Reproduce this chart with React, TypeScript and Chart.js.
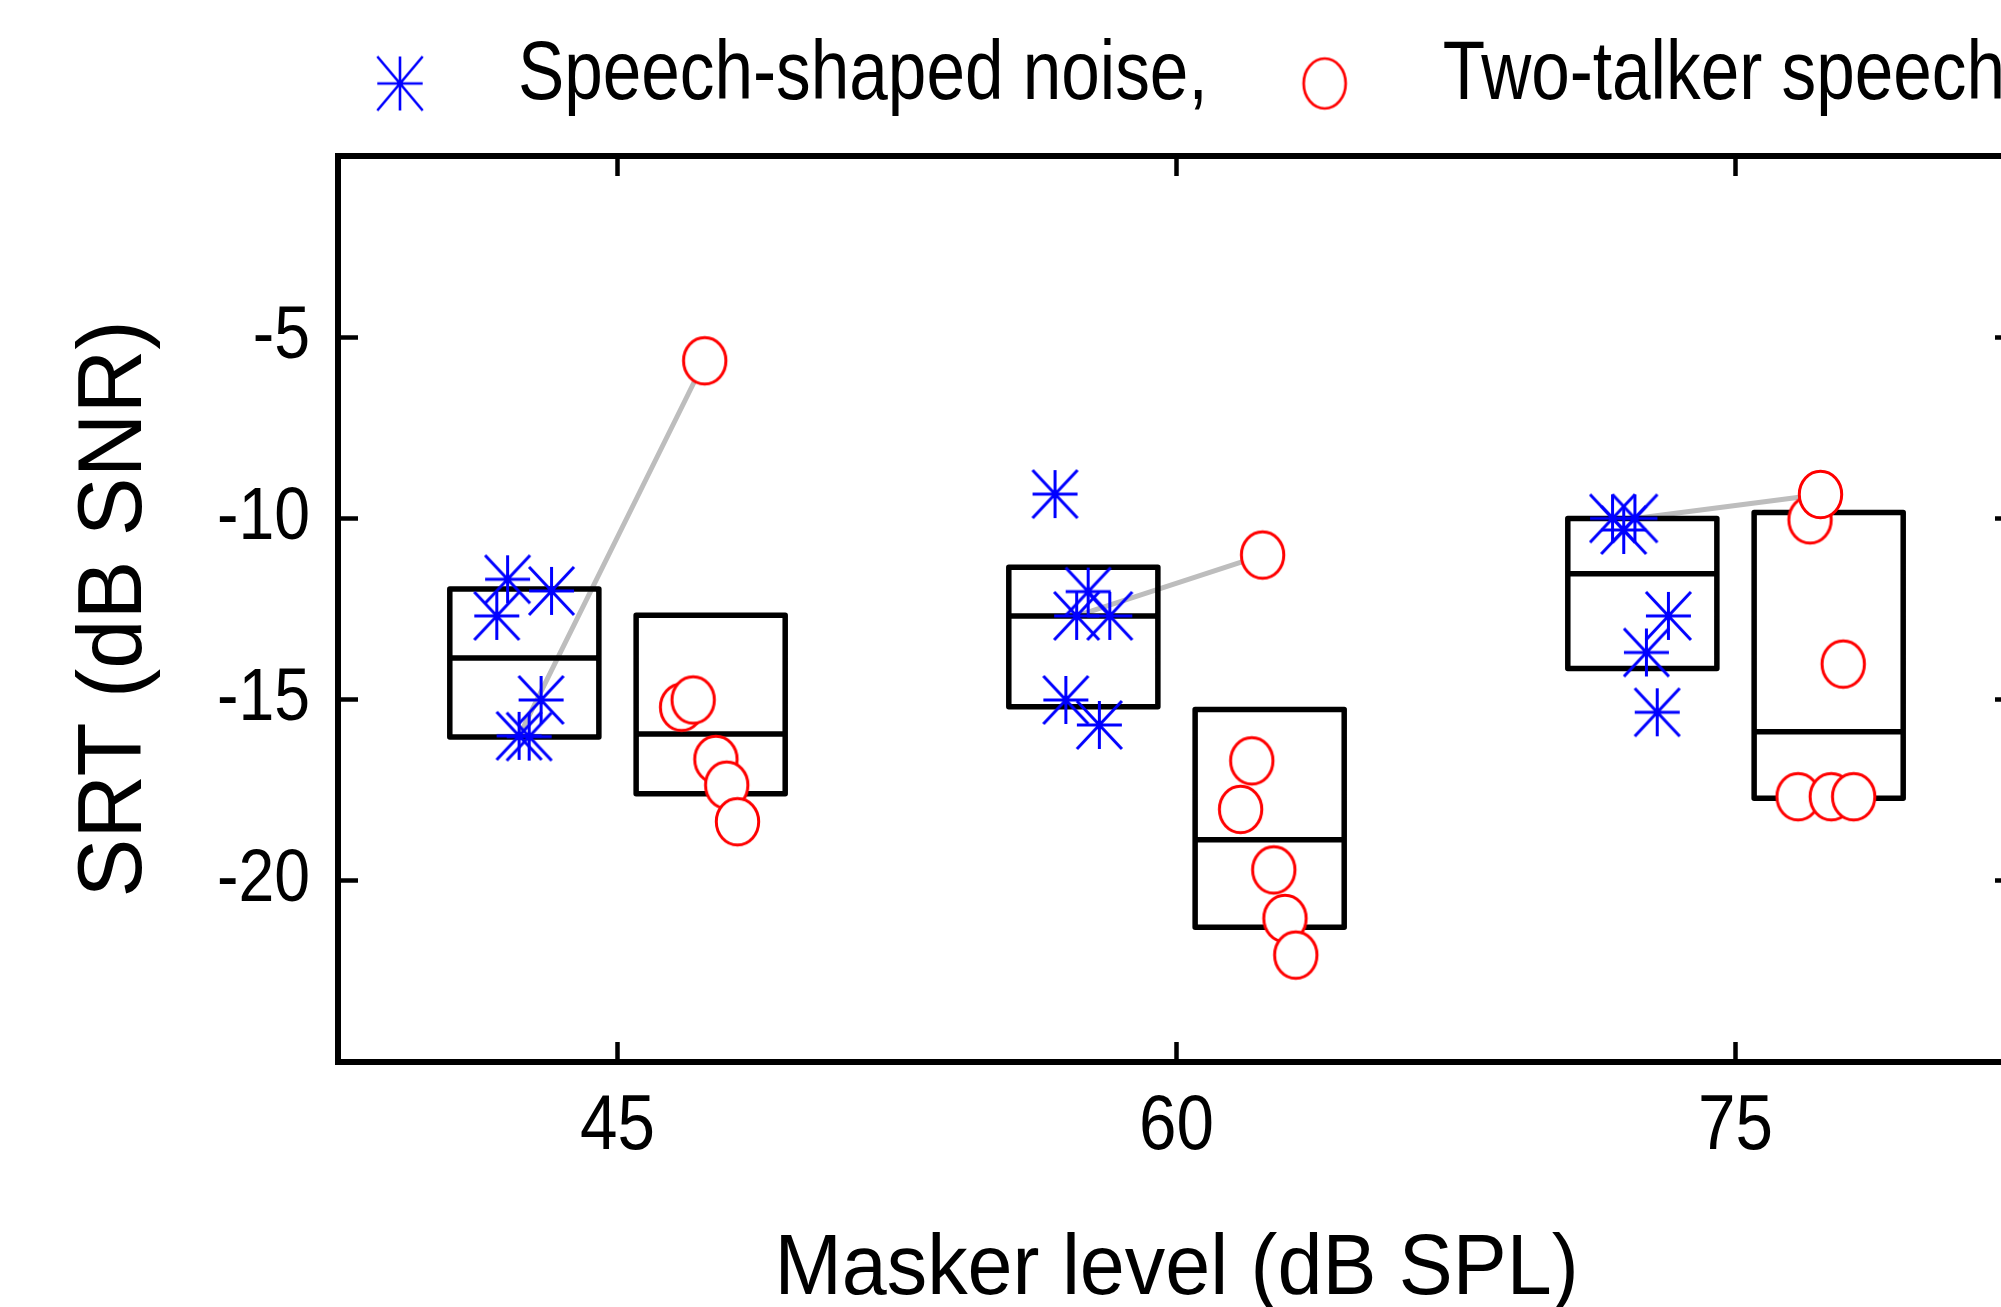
import React, { useEffect, useRef } from 'react';
import { Chart, registerables } from 'chart.js';

Chart.register(...registerables);

// ---------- data ----------
const levels = [45, 60, 75]; // masker level tick positions (dB SPL)
const xMin = 37.5;
const xMax = 82.5;
const yMin = -25;
const yMax = 0;
const yTickLabels = [-20, -15, -10, -5];

const ssnLabel = 'Speech-shaped noise,';
const ttLabel = 'Two-talker speech';

// Speech-shaped noise: individual SRTs (x = plotted, jittered position)
const ssnX = [42.05, 43.23, 41.76, 42.95, 42.36, 42.63, 56.74, 57.63, 57.32, 58.21, 57.03, 57.93, 71.7, 72.3, 72.0, 73.2, 72.61, 72.9];
const ssnY = [-11.68, -12.0, -12.69, -15.01, -16.0, -16.02, -9.33, -12.02, -12.69, -12.69, -15.01, -15.7, -10.0, -10.0, -10.32, -12.69, -13.7, -15.35];

// Two-talker speech: individual SRTs
const ttX = [46.72, 47.03, 47.64, 47.93, 48.22, 47.34, 62.31, 62.02, 61.72, 62.61, 62.91, 63.2, 77.0, 77.28, 77.89, 76.68, 77.57, 78.17];
const ttY = [-15.21, -15.01, -16.65, -17.36, -18.37, -5.65, -11.01, -16.69, -18.03, -19.7, -21.04, -22.05, -10.04, -9.34, -14.02, -17.68, -17.68, -17.68];

// Box summaries per masker level (low edge, median, high edge)
const ssnLow = [-16.03, -15.2, -14.14];
const ssnMed = [-13.85, -12.69, -11.53];
const ssnHigh = [-11.95, -11.35, -10.0];
const ttLow = [-17.6, -21.28, -17.72];
const ttMed = [-15.95, -18.87, -15.89];
const ttHigh = [-12.67, -15.27, -9.84];

// Highlighted listener (grey connecting lines): indices into the point arrays
const pairSsn = [4, 8, 13];
const pairTt = [5, 6, 13];

// ---------- styling constants ----------
const BOX_OFFSET = 2.5; // box centre offset from the level (data units)
const BOX_HALF = 2; // half box width (data units)
const FONT = "'Liberation Sans', Arial, Helvetica, sans-serif";
const SIZE_LEGEND = 84;
const SIZE_YTICK = 74;
const SIZE_XTICK = 77;
const SIZE_XTITLE = 86;
const SIZE_YTITLE = 91;
// narrow-font emulation: horizontal squeeze of glyphs per font size
const SQUEEZE: Record<number, number> = {
  [SIZE_LEGEND]: 0.825,
  [SIZE_YTICK]: 0.87,
  [SIZE_XTICK]: 0.875,
  [SIZE_XTITLE]: 0.94,
  [SIZE_YTITLE]: 0.97,
};

function makeStar(hw: number, hh: number, lw: number, dy = 0) {
  const pad = 4;
  const c = document.createElement('canvas');
  c.width = Math.ceil(2 * hw + 2 * pad);
  c.height = Math.ceil(2 * (hh + Math.abs(dy)) + 2 * pad);
  const g = c.getContext('2d')!;
  const cx = c.width / 2;
  const cy = c.height / 2 + dy;
  g.strokeStyle = '#0000ff';
  g.lineWidth = lw;
  g.beginPath();
  g.moveTo(cx - hw, cy); g.lineTo(cx + hw, cy);
  g.moveTo(cx, cy - hh); g.lineTo(cx, cy + hh);
  g.moveTo(cx - hw, cy - hh); g.lineTo(cx + hw, cy + hh);
  g.moveTo(cx - hw, cy + hh); g.lineTo(cx + hw, cy - hh);
  g.stroke();
  return c;
}

function makeCircle(rx: number, ry: number, lw: number, dy = 0) {
  const pad = 4;
  const c = document.createElement('canvas');
  c.width = Math.ceil(2 * rx + 2 * pad);
  c.height = Math.ceil(2 * (ry + Math.abs(dy)) + 2 * pad);
  const g = c.getContext('2d')!;
  const cx = c.width / 2;
  const cy = c.height / 2 + dy;
  g.beginPath();
  g.ellipse(cx, cy, rx, ry, 0, 0, Math.PI * 2);
  g.fillStyle = '#ffffff';
  g.fill();
  g.strokeStyle = '#ff0000';
  g.lineWidth = lw;
  g.stroke();
  return c;
}

function squeezeText(ctx: CanvasRenderingContext2D) {
  const origFill = ctx.fillText.bind(ctx);
  const origMeasure = ctx.measureText.bind(ctx);
  const sxFor = () => {
    const m = /(\d+(?:\.\d+)?)px/.exec(ctx.font);
    return m ? SQUEEZE[Math.round(Number(m[1]))] ?? 1 : 1;
  };
  (ctx as any).fillText = (text: string, x: number, y: number, maxWidth?: number) => {
    const sx = sxFor();
    if (sx === 1) return maxWidth === undefined ? origFill(text, x, y) : origFill(text, x, y, maxWidth);
    ctx.save();
    ctx.translate(x, y);
    ctx.scale(sx, 1);
    origFill(text, 0, 0);
    ctx.restore();
  };
  (ctx as any).measureText = (text: string) => {
    const m = origMeasure(text);
    const sx = sxFor();
    if (sx === 1) return m;
    return {
      width: m.width * sx,
      actualBoundingBoxLeft: m.actualBoundingBoxLeft * sx,
      actualBoundingBoxRight: m.actualBoundingBoxRight * sx,
      actualBoundingBoxAscent: m.actualBoundingBoxAscent,
      actualBoundingBoxDescent: m.actualBoundingBoxDescent,
      fontBoundingBoxAscent: m.fontBoundingBoxAscent,
      fontBoundingBoxDescent: m.fontBoundingBoxDescent,
    };
  };
}

export default function App() {
  const ref = useRef<HTMLCanvasElement>(null);

  useEffect(() => {
    const canvas = ref.current;
    if (!canvas) return;

    const legendPad = 41;
    const legendBox = 152;
    const H = 1307;
    const areaLeft = 338;
    const areaRight = 2015;
    const areaBottom = 1062;

    const mctx = document.createElement('canvas').getContext('2d')!;
    mctx.font = `${SIZE_LEGEND}px ${FONT}`;
    const sq = SQUEEZE[SIZE_LEGEND];
    const tw1 = mctx.measureText(ssnLabel).width * sq;
    const tw2 = mctx.measureText(ttLabel).width * sq;
    const lineW = (legendBox + SIZE_LEGEND / 2 + tw1 + legendPad) + (legendBox + SIZE_LEGEND / 2 + tw2 + legendPad);
    const legendStart = 324;
    const W = Math.round(2 * legendStart - legendPad + lineW);
    canvas.width = W;
    canvas.height = H;
    canvas.style.width = W + 'px';
    canvas.style.height = H + 'px';
    squeezeText(canvas.getContext('2d')!);

    const star = makeStar(22.5, 24, 3);
    const circ = makeCircle(21.2, 23.2, 3);
    const legStar = makeStar(22.7, 27, 2.6, 7.5);
    const legCirc = makeCircle(21, 25, 2.7, 7.5);

    const ssnPts = ssnX.map((x, i) => ({ x, y: ssnY[i] }));
    const ttPts = ttX.map((x, i) => ({ x, y: ttY[i] }));

    const boxPts: { x: number; y: number | null }[] = [];
    const addBox = (c: number, lo: number, me: number, hi: number) => {
      const l = c - BOX_HALF;
      const r = c + BOX_HALF;
      boxPts.push({ x: l, y: lo }, { x: r, y: lo }, { x: r, y: hi }, { x: l, y: hi }, { x: l, y: lo }, { x: l, y: null });
      boxPts.push({ x: l, y: me }, { x: r, y: me }, { x: r, y: null });
    };
    levels.forEach((lv, i) => {
      addBox(lv - BOX_OFFSET, ssnLow[i], ssnMed[i], ssnHigh[i]);
      addBox(lv + BOX_OFFSET, ttLow[i], ttMed[i], ttHigh[i]);
    });

    const pairPts: { x: number; y: number | null }[] = [];
    pairSsn.forEach((si, k) => {
      const ti = pairTt[k];
      pairPts.push({ x: ssnX[si], y: ssnY[si] }, { x: ttX[ti], y: ttY[ti] }, { x: ttX[ti], y: null });
    });

    const xTicks = (scale: any) => {
      scale.ticks = levels.map((v) => ({ value: v }));
    };
    const tickGrid = {
      display: true,
      drawOnChartArea: false,
      drawTicks: true,
      tickLength: -20,
      tickWidth: 4.5,
      tickColor: '#000000',
    };
    const border = { display: true, width: 6, color: '#000000' };

    const chart = new Chart(canvas, {
      type: 'scatter',
      data: {
        datasets: [
          {
            type: 'scatter',
            label: ssnLabel,
            data: ssnPts,
            pointStyle: star as any,
            pointRadius: 24,
            pointHoverRadius: 24,
            borderColor: '#0000ff',
            backgroundColor: '#0000ff',
          },
          {
            type: 'scatter',
            label: ttLabel,
            data: ttPts,
            pointStyle: circ as any,
            pointRadius: 24,
            pointHoverRadius: 24,
            borderColor: '#ff0000',
            backgroundColor: '#ffffff',
          },
          {
            type: 'line',
            label: 'boxes',
            data: boxPts as any,
            borderColor: '#000000',
            borderWidth: 5.5,
            pointRadius: 0,
            pointHoverRadius: 0,
            fill: false,
            tension: 0,
            spanGaps: false,
            borderJoinStyle: 'round',
            borderCapStyle: 'round',
          },
          {
            type: 'line',
            label: 'pairs',
            data: pairPts as any,
            borderColor: '#bdbdbd',
            borderWidth: 5,
            pointRadius: 0,
            pointHoverRadius: 0,
            fill: false,
            tension: 0,
            spanGaps: false,
          },
        ],
      },
      options: {
        responsive: false,
        animation: false,
        devicePixelRatio: 1,
        events: [],
        layout: { padding: { top: -7, left: 0, right: 0, bottom: 0 } },
        plugins: {
          tooltip: { enabled: false },
          legend: {
            display: true,
            position: 'top',
            align: 'center',
            labels: {
              usePointStyle: true,
              pointStyleWidth: legendBox,
              padding: legendPad,
              color: '#000000',
              font: { family: FONT, size: SIZE_LEGEND },
              generateLabels: () => [
                { text: ssnLabel, pointStyle: legStar as any, fillStyle: '#0000ff', strokeStyle: '#0000ff', lineWidth: 0, hidden: false, datasetIndex: 0, fontColor: '#000000' },
                { text: ttLabel, pointStyle: legCirc as any, fillStyle: '#ffffff', strokeStyle: '#ff0000', lineWidth: 0, hidden: false, datasetIndex: 1, fontColor: '#000000' },
              ],
            },
          },
        },
        scales: {
          x: {
            type: 'linear',
            position: 'bottom',
            min: xMin,
            max: xMax,
            afterBuildTicks: xTicks,
            afterFit: (s: any) => { s.height = H - areaBottom; },
            ticks: { font: { family: FONT, size: SIZE_XTICK }, color: '#000000', padding: 40, maxRotation: 0, autoSkip: false },
            grid: tickGrid,
            border,
            title: {
              display: true,
              text: 'Masker level (dB SPL)',
              color: '#000000',
              font: { family: FONT, size: SIZE_XTITLE, lineHeight: 1 },
              padding: { top: 0, bottom: -6 },
            },
          },
          x2: {
            type: 'linear',
            axis: 'x',
            position: 'top',
            min: xMin,
            max: xMax,
            afterBuildTicks: xTicks,
            afterFit: (s: any) => { s.height = 28; },
            ticks: { display: false },
            grid: tickGrid,
            border,
          },
          y: {
            type: 'linear',
            position: 'left',
            min: yMin,
            max: yMax,
            afterFit: (s: any) => { s.width = areaLeft; },
            ticks: {
              stepSize: 5,
              font: { family: FONT, size: SIZE_YTICK },
              color: '#000000',
              padding: 48,
              callback: (v: any) => (yTickLabels.includes(Number(v)) ? String(v) : ''),
            },
            grid: tickGrid,
            border,
            title: {
              display: true,
              text: 'SRT (dB SNR)',
              color: '#000000',
              font: { family: FONT, size: SIZE_YTITLE, lineHeight: 1 },
              padding: { top: 70, bottom: 0 },
            },
          },
          y2: {
            type: 'linear',
            axis: 'y',
            position: 'right',
            min: yMin,
            max: yMax,
            afterFit: (s: any) => { s.width = W - areaRight; },
            ticks: { display: false, stepSize: 5 },
            grid: tickGrid,
            border,
          },
        },
      } as any,
    });

    return () => chart.destroy();
  }, []);

  return (
    <div style={{ position: 'fixed', left: 0, top: 0, width: 2001, height: 1307, overflow: 'hidden', background: '#ffffff' }}>
      <canvas ref={ref} style={{ display: 'block' }} />
    </div>
  );
}
